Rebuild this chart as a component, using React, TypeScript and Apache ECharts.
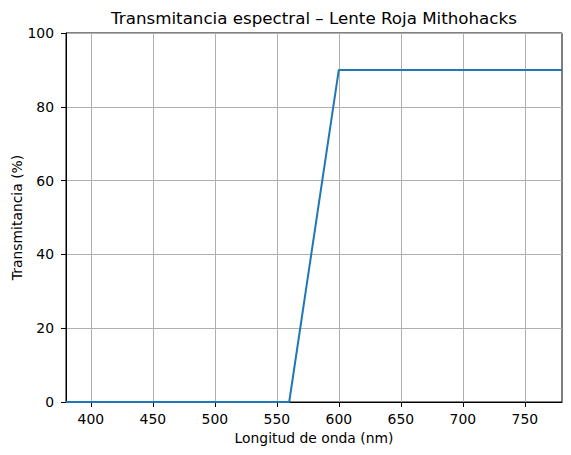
import { useEffect, useRef } from 'react';
import * as echarts from 'echarts';

// longitud de onda (nm) y transmitancia (%)
const wavelengths = [380, 560, 600, 780];
const transmittance = [0, 0, 90, 90];

const xTicks = [400, 450, 500, 550, 600, 650, 700, 750];

const FONT = 'DejaVu Sans, sans-serif';

export default function App() {
  const chartRef = useRef<HTMLDivElement>(null);

  useEffect(() => {
    if (!chartRef.current) return;
    const chart = echarts.init(chartRef.current, undefined, { renderer: 'svg' });

    chart.setOption({
      animation: false,
      backgroundColor: '#fff',
      textStyle: { fontFamily: FONT },
      grid: {
        left: 66,
        right: 9,
        top: 33,
        bottom: 53,
        containLabel: false,
        outerBoundsMode: 'none',
        show: true,
        borderColor: '#000',
        borderWidth: 1,
        backgroundColor: 'transparent',
      },
      graphic: [
        {
          type: 'text',
          x: 314,
          y: 18,
          z: 10,
          style: {
            text: 'Transmitancia espectral – Lente Roja Mithohacks',
            textAlign: 'center',
            textVerticalAlign: 'middle',
            font: `16.7px ${FONT}`,
            fill: '#000',
          },
        },
      ],
      xAxis: {
        type: 'value',
        min: 380,
        max: 780,
        name: 'Longitud de onda (nm)',
        nameLocation: 'middle',
        nameGap: 29,
        nameMoveOverlap: false,
        nameTextStyle: { fontSize: 13.9, color: '#000', fontFamily: FONT },
        axisLine: { show: true, onZero: false, lineStyle: { color: '#000', width: 1 } },
        axisTick: {
          show: true,
          length: 5,
          inside: false,
          lineStyle: { color: '#000' },
          customValues: xTicks,
        },
        axisLabel: {
          fontSize: 13.9,
          color: '#000',
          margin: 10,
          customValues: xTicks,
        },
        splitLine: {
          show: true,
          lineStyle: { color: '#b0b0b0', width: 1 },
        },
      },
      yAxis: {
        type: 'value',
        min: 0,
        max: 100,
        interval: 20,
        name: 'Transmitancia (%)',
        nameLocation: 'middle',
        nameGap: 42,
        nameMoveOverlap: false,
        nameTextStyle: { fontSize: 13.9, color: '#000', fontFamily: FONT },
        axisLine: { show: true, lineStyle: { color: '#000', width: 1 } },
        axisTick: { show: true, length: 5, inside: false, lineStyle: { color: '#000' } },
        axisLabel: { fontSize: 13.9, color: '#000', margin: 12 },
        splitLine: { show: true, lineStyle: { color: '#b0b0b0', width: 1 } },
      },
      series: [
        {
          type: 'line',
          data: wavelengths.map((w, i) => [w, transmittance[i]]),
          showSymbol: false,
          lineStyle: { color: '#1f77b4', width: 2 },
          clip: true,
        },
      ],
    });

    return () => chart.dispose();
  }, []);

  return (
    <div
      ref={chartRef}
      style={{ position: 'fixed', left: 0, top: 0, width: 571, height: 455 }}
    />
  );
}
